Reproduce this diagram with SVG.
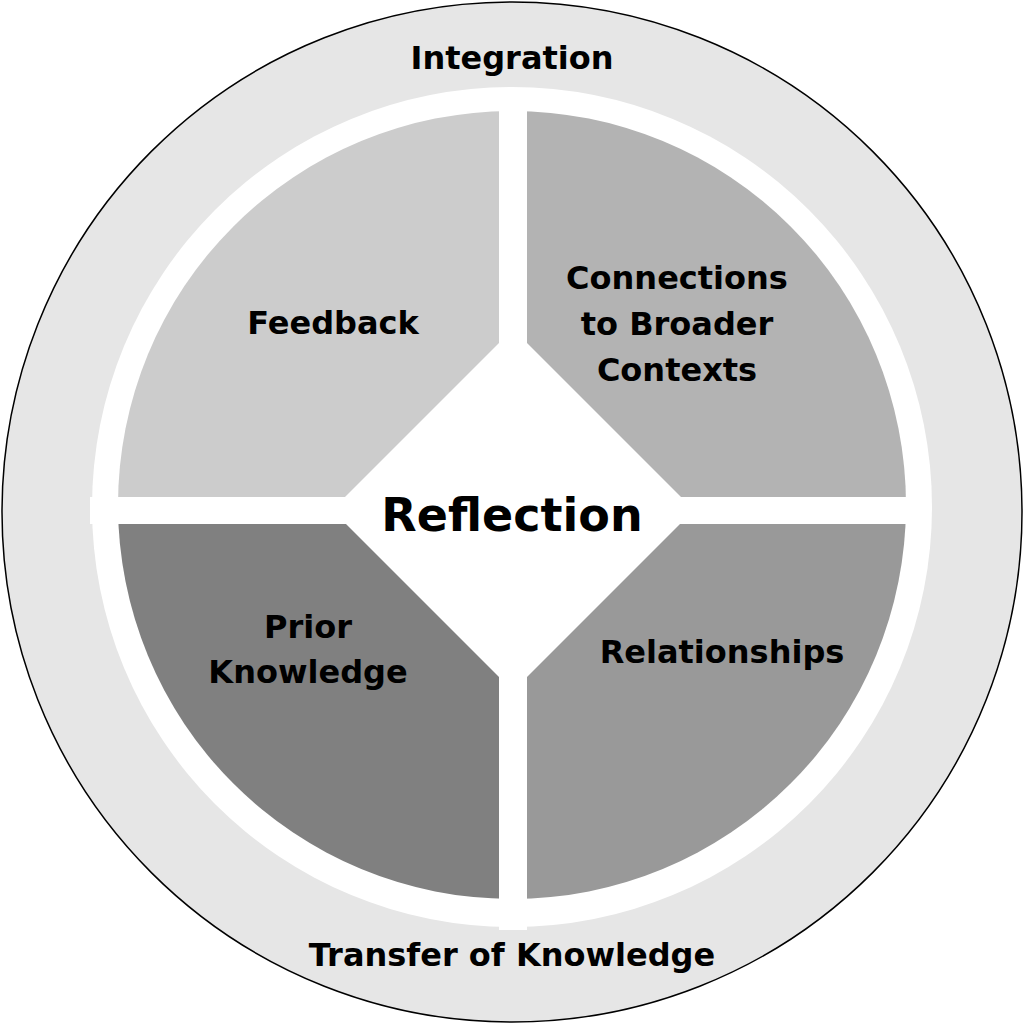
<svg xmlns="http://www.w3.org/2000/svg" width="1024" height="1024" viewBox="0 0 1024 1024">
<style>
text{font-family:"DejaVu Sans",Verdana,sans-serif;font-weight:bold;fill:#000;text-anchor:middle}
.l{font-size:32px}
</style>
<rect width="1024" height="1024" fill="#fff"/>
<g id="outer">
<circle cx="512" cy="512" r="510" fill="#e6e6e6" stroke="#000" stroke-width="1.5"/>
<circle cx="512" cy="507" r="420" fill="#fff"/>
<text class="l" x="512" y="69">Integration</text>
<text class="l" x="512" y="966">Transfer of Knowledge</text>
</g>
<g id="feedback">
<path d="M512,505 L118,505 A394,394 0 0 1 512,111 Z" fill="#cccccc"/>
<text class="l" x="333" y="334">Feedback</text>
</g>
<g id="connections">
<path d="M512,505 L512,111 A394,394 0 0 1 906,505 Z" fill="#b3b3b3"/>
<text class="l" x="677" y="289">Connections</text>
<text class="l" x="677" y="335">to Broader</text>
<text class="l" x="677" y="381">Contexts</text>
</g>
<g id="relationships">
<path d="M512,505 L906,505 A394,394 0 0 1 512,899 Z" fill="#999999"/>
<text class="l" x="722" y="663">Relationships</text>
</g>
<g id="prior">
<path d="M512,505 L512,899 A394,394 0 0 1 118,505 Z" fill="#808080"/>
<text class="l" x="308" y="638">Prior</text>
<text class="l" x="308" y="683">Knowledge</text>
</g>
<g id="gaps">
<rect x="499" y="90" width="28" height="840" fill="#fff"/>
<rect x="90" y="497" width="840" height="27" fill="#fff"/>
</g>
<g id="reflection">
<polygon points="513,329 694,510 513,691 332,510" fill="#fff"/>
<text x="512" y="531" style="font-size:46px">Reflection</text>
</g>
<g id="connectors"/>
</svg>
